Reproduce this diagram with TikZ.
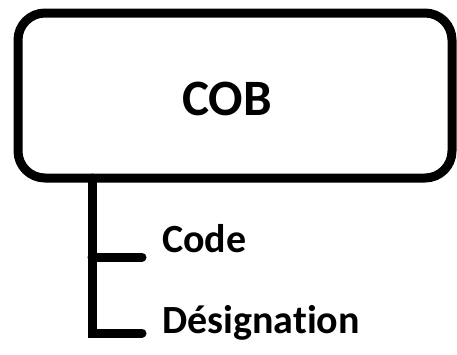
\documentclass[tikz,border=0pt]{standalone}
\usepackage{fontspec}
\setmainfont[Ligatures={NoCommon,NoRare,NoContextual}]{Carlito}
\begin{document}
\begin{tikzpicture}[x=1pt,y=-1pt,
  thickline/.style={line width=9pt, line cap=round, line join=miter},
  lbl/.style={inner sep=0pt, anchor=base west, font=\fontsize{40}{48}\selectfont\bfseries}]
\useasboundingbox (0,0) rectangle (457,354);
\draw[line width=9pt, rounded corners=27pt] (18,13) rectangle (452,178);
\node[inner sep=0pt, font=\fontsize{51}{60}\selectfont\bfseries] (cob) at (227,99) {COB};
\coordinate (trunk) at (92,178);
\node[lbl] (code) at (162,252) {Code};
\node[lbl] (desig) at (162,333) {Désignation};
\coordinate (b1) at (142,257);
\coordinate (b2) at (142,333);
\draw[thickline] (trunk) -- (b2 -| trunk) -- (b2);
\draw[thickline] (b1 -| trunk) -- (b1);
\end{tikzpicture}
\end{document}
